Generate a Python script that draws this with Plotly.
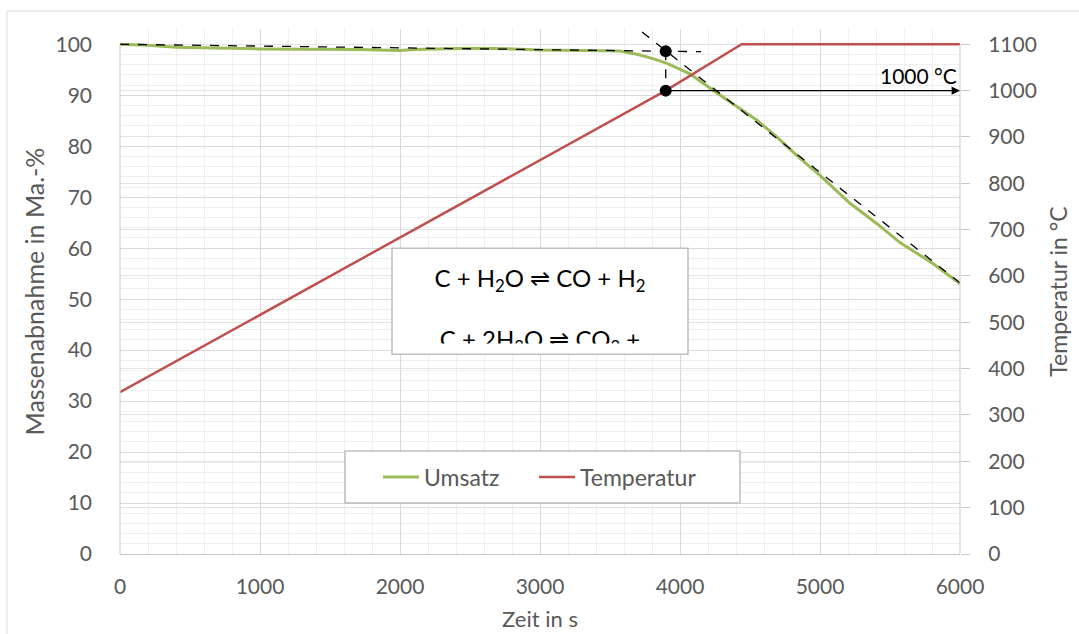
import plotly.graph_objects as go

# ---------------- data ----------------
time_umsatz = [0, 200, 400, 800, 1000, 1700, 1800, 2000, 2100, 2500, 2800, 3000, 3300, 3500,
               3571, 3700, 3807, 3912, 4071, 4236, 4429, 4550, 4693, 4857, 5000, 5214, 5407,
               5571, 5807, 6000]
umsatz = [100, 99.8, 99.4, 99.2, 99.1, 99.0, 98.9, 98.8, 99.0, 99.2, 99.1, 98.9, 98.8, 98.7,
          98.7, 98.0, 97.2, 96.2, 94.2, 91.0, 87.4, 85.1, 81.8, 77.6, 74.3, 68.8, 64.8,
          61.1, 57.0, 53.0]

time_temp = [0, 2000, 3898, 4440, 6000]
temperatur = [349, 683, 1000, 1100, 1100]

tangent_base_t = [0, 4150]
tangent_base_v = [100, 98.55]
tangent_slope_t = [3729, 6000]
tangent_slope_v = [102.4, 53.2]

onset_t = 3898
onset_v = 98.65
target_temp = 1000

x_ticks = [0, 1000, 2000, 3000, 4000, 5000, 6000]
y_ticks = [0, 10, 20, 30, 40, 50, 60, 70, 80, 90, 100]
y2_ticks = [0, 100, 200, 300, 400, 500, 600, 700, 800, 900, 1000, 1100]

reaction_1 = "C + H<sub>2</sub>O ⇌ CO + H<sub>2</sub>"
reaction_2 = "C + 2H<sub>2</sub>O ⇌ CO<sub>2</sub> +"

Y_MAX = 103.0
Y2_MAX = Y_MAX * 11

FONT = "Lato"
GREY = "#595959"
GREEN = "#9BBB59"
RED = "#C0504D"

fig = go.Figure()

fig.add_trace(go.Scatter(x=time_umsatz, y=umsatz, mode="lines", name="Umsatz",
                         legend="legend", line=dict(color=GREEN, width=3)))
fig.add_trace(go.Scatter(x=time_temp, y=temperatur, mode="lines", name="Temperatur",
                         legend="legend2", yaxis="y2", line=dict(color=RED, width=2.5)))

# tangent construction
fig.add_trace(go.Scatter(x=tangent_base_t, y=tangent_base_v, mode="lines", showlegend=False,
                         line=dict(color="black", width=1.3, dash="dash")))
fig.add_trace(go.Scatter(x=tangent_slope_t, y=tangent_slope_v, mode="lines", showlegend=False,
                         line=dict(color="black", width=1.3, dash="dash")))
fig.add_trace(go.Scatter(x=[onset_t, onset_t], y=[onset_v, target_temp / 11], mode="lines",
                         showlegend=False, line=dict(color="black", width=1.3, dash="dash")))
fig.add_trace(go.Scatter(x=[onset_t], y=[onset_v], mode="markers", showlegend=False,
                         cliponaxis=False, marker=dict(color="black", size=12)))
fig.add_trace(go.Scatter(x=[onset_t], y=[target_temp], yaxis="y2", mode="markers",
                         showlegend=False, cliponaxis=False,
                         marker=dict(color="black", size=12)))

# reaction text box content
box_x = [1943, 4057]
box_y = [39.2, 60.0]
box_mid = (box_x[0] + box_x[1]) / 2
fig.add_trace(go.Scatter(
    x=[box_mid], y=[53.6], mode="text", showlegend=False, text=[reaction_1],
    textfont=dict(family=FONT, size=24, color="black"), hoverinfo="skip"))
fig.add_trace(go.Scatter(
    x=[box_mid], y=[41.6], mode="text", showlegend=False, text=[reaction_2],
    textfont=dict(family=FONT, size=24, color="black"), hoverinfo="skip"))

shapes = [
    # outer chart border
    dict(type="rect", xref="paper", yref="paper", x0=-113 / 840, x1=970 / 840,
         y0=-90 / 525, y1=543 / 525, line=dict(color="#d9d9d9", width=1),
         fillcolor="rgba(0,0,0,0)", layer="below"),
    # box fill
    dict(type="rect", xref="x", yref="y", x0=box_x[0], x1=box_x[1], y0=box_y[0], y1=box_y[1],
         fillcolor="white", line=dict(width=0), layer="between"),
    # clip cover for the second line (text box inner margin)
    dict(type="rect", xref="x", yref="y", x0=box_x[0] + 15, x1=box_x[1] - 15,
         y0=box_y[0], y1=box_y[0] + 2.1,
         fillcolor="white", line=dict(width=0), layer="above"),
    # box outline
    dict(type="rect", xref="x", yref="y", x0=box_x[0], x1=box_x[1], y0=box_y[0], y1=box_y[1],
         fillcolor="rgba(0,0,0,0)", line=dict(color="#bfbfbf", width=1.5), layer="above"),
    # legend frame
    dict(type="rect", xref="paper", yref="paper", x0=225 / 840, x1=620 / 840,
         y0=51 / 525, y1=103 / 525, fillcolor="white",
         line=dict(color="#bfbfbf", width=1.5), layer="above"),
    # left and right axis lines
    dict(type="line", xref="paper", yref="paper", x0=0, x1=0, y0=0, y1=100 / Y_MAX,
         line=dict(color="#c8c8c8", width=1)),
    dict(type="line", xref="paper", yref="paper", x0=1, x1=1, y0=0, y1=100 / Y_MAX,
         line=dict(color="#c8c8c8", width=1)),
]

annotations = [
    dict(x=6000, y=target_temp, xref="x", yref="y2", ax=onset_t, ay=target_temp,
         axref="x", ayref="y2", showarrow=True, arrowhead=2, arrowsize=1.2, arrowwidth=1.4,
         arrowcolor="black", text=""),
    dict(x=6000, y=target_temp, xref="x", yref="y2", xanchor="right", yanchor="bottom",
         yshift=1, xshift=-1, text="1000 °C", showarrow=False,
         font=dict(family=FONT, size=21, color="black")),
]

minor_y = [v for v in range(2, 100, 2) if v % 10 != 0]

legend_style = dict(orientation="h", xanchor="left", yanchor="middle",
                    bgcolor="rgba(0,0,0,0)", borderwidth=0,
                    font=dict(family=FONT, size=23, color=GREY), itemwidth=36)

fig.update_layout(
    width=1079, height=634,
    margin=dict(l=120, r=119, t=29, b=80),
    paper_bgcolor="white", plot_bgcolor="white",
    font=dict(family=FONT, size=20, color=GREY),
    shapes=shapes, annotations=annotations,
    showlegend=True,
    legend=dict(x=258 / 840, y=77 / 525, **legend_style),
    legend2=dict(x=414 / 840, y=77 / 525, **legend_style),
    xaxis=dict(range=[0, 6000], tickvals=x_ticks, showgrid=True, gridcolor="#d9d9d9",
               gridwidth=1, showline=True, linecolor="#c8c8c8", linewidth=1, ticks="",
               zeroline=False, tickfont=dict(family=FONT, size=21, color=GREY),
               ticklabelstandoff=14, automargin=False,
               minor=dict(dtick=200, showgrid=True, gridcolor="#efefef", gridwidth=1),
               title=dict(text="Zeit in s", font=dict(family=FONT, size=22, color=GREY),
                          standoff=14)),
    yaxis=dict(range=[0, Y_MAX], tickvals=y_ticks, showgrid=True, gridcolor="#d9d9d9",
               showline=False, ticks="", zeroline=False, automargin=False,
               tickfont=dict(family=FONT, size=21, color=GREY), ticklabelstandoff=27,
               minor=dict(tickvals=minor_y, showgrid=True, gridcolor="#efefef", gridwidth=1),
               title=dict(text="Massenabnahme in Ma.-%",
                          font=dict(family=FONT, size=25, color=GREY), standoff=3)),
    yaxis2=dict(range=[0, Y2_MAX], tickvals=y2_ticks, overlaying="y", side="right",
                showgrid=True, gridcolor="#e3e3e3", showline=False, zeroline=False,
                ticks="outside", ticklen=9, tickcolor="#c8c8c8", automargin=False,
                tickfont=dict(family=FONT, size=21, color=GREY), ticklabelstandoff=14,
                title=dict(text="Temperatur in °C",
                           font=dict(family=FONT, size=23, color=GREY), standoff=14)),
)

fig.write_html("out.html", config={"displayModeBar": False},
               post_script="document.body.style.margin='0';")
